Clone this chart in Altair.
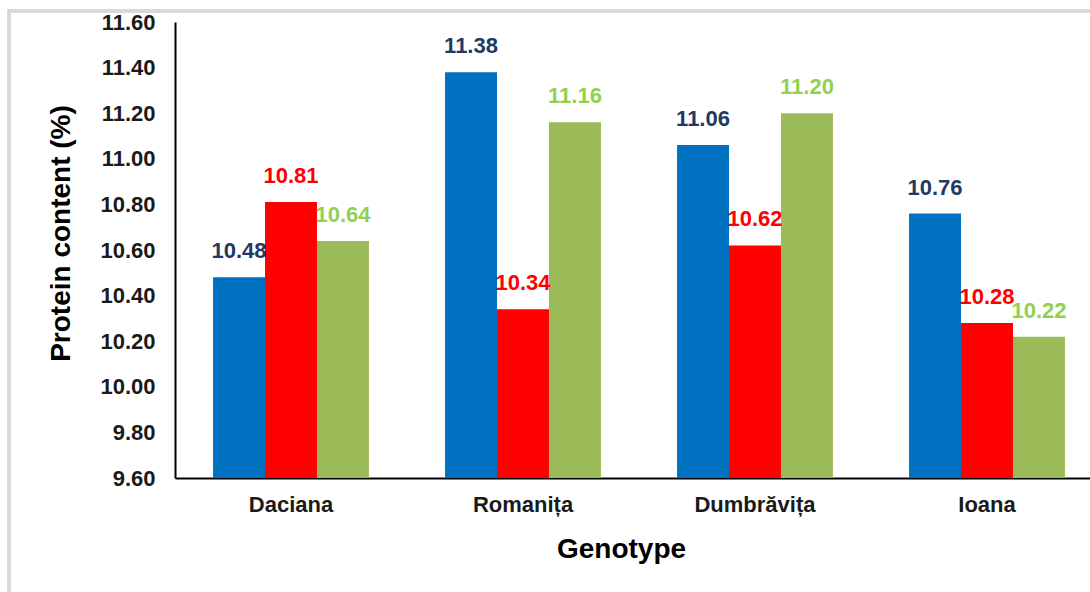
import altair as alt
import pandas as pd

# Protein content (%) per genotype, three series per group
genotypes = ["Daciana", "Romanița", "Dumbrăvița", "Ioana"]
series = ["S1", "S2", "S3"]
protein_s1 = [10.48, 11.38, 11.06, 10.76]
protein_s2 = [10.81, 10.34, 10.62, 10.28]
protein_s3 = [10.64, 11.16, 11.20, 10.22]
y_ticks = [9.60, 9.80, 10.00, 10.20, 10.40, 10.60, 10.80, 11.00, 11.20, 11.40, 11.60]

rows = []
for s, vals in zip(series, [protein_s1, protein_s2, protein_s3]):
    for g, v in zip(genotypes, vals):
        rows.append({"genotype": g, "series": s, "protein": v})
df = pd.DataFrame(rows)

FONT = "Liberation Sans"
bar_colors = ["#0070C0", "#FF0000", "#9BBB59"]
label_colors = ["#1F3864", "#FF0000", "#92D050"]

W, H = 915, 456

x_enc = alt.X(
    "genotype:N",
    sort=genotypes,
    scale=alt.Scale(range=[0, 928], paddingInner=0.328, paddingOuter=0.164),
    axis=alt.Axis(
        title="Genotype",
        labelAngle=0,
        labelPadding=16,
        titleX=446,
        titleY=71,
        titleBaseline="middle",
        titleAlign="center",
    ),
)
xoff = alt.XOffset("series:N", sort=series, scale=alt.Scale(paddingInner=0, paddingOuter=0))
y_enc = alt.Y(
    "protein:Q",
    scale=alt.Scale(domain=[9.6, 11.6], zero=False, nice=False),
    axis=alt.Axis(
        title="Protein content (%)",
        values=y_ticks,
        format=".2f",
        labelPadding=20,
        labelOverlap=False,
        titleX=-114,
        titleY=211,
        titleBaseline="middle",
        titleAlign="center",
        titleAngle=270,
    ),
)

bars = alt.Chart(df).mark_bar().encode(
    x=x_enc,
    xOffset=xoff,
    y=y_enc,
    y2=alt.datum(9.6),
    color=alt.Color("series:N", scale=alt.Scale(domain=series, range=bar_colors), legend=None),
)

labels = alt.Chart(df).mark_text(
    dy=-26, fontSize=22, fontWeight="bold", font=FONT, baseline="middle", align="center"
).encode(
    x=x_enc,
    xOffset=xoff,
    y=alt.Y("protein:Q"),
    text=alt.Text("protein:Q", format=".2f"),
    color=alt.Color("series:N", scale=alt.Scale(domain=series, range=label_colors), legend=None),
)

# light grey outer frame (left and top edges)
frame_left = alt.Chart(df).mark_rule(color="#D9D9D9", strokeWidth=3).encode(
    x=alt.value(-166), y=alt.value(-12.5), y2=alt.value(H + 120)
)
frame_top = alt.Chart(df).mark_rule(color="#D9D9D9", strokeWidth=3).encode(
    x=alt.value(-167.5), x2=alt.value(W + 10), y=alt.value(-11)
)

chart = (
    alt.layer(frame_left, frame_top, bars, labels)
    .resolve_scale(color="independent")
    .properties(
        width=W,
        height=H,
        autosize=alt.AutoSizeParams(type="none"),
        padding={"left": 175, "top": 22, "right": 0, "bottom": 114},
        background="white",
    )
    .configure_view(stroke=None)
    .configure_axis(
        domainColor="#000000",
        domainWidth=2,
        ticks=False,
        tickSize=0,
        grid=False,
        labelFont=FONT,
        labelFontSize=22,
        labelFontWeight="bold",
        labelColor="#1A1A1A",
        titleFont=FONT,
        titleFontSize=28,
        titleFontWeight="bold",
        titleColor="#000000",
    )
)

chart.save("out.html", embed_options={"renderer": "svg", "actions": False})
